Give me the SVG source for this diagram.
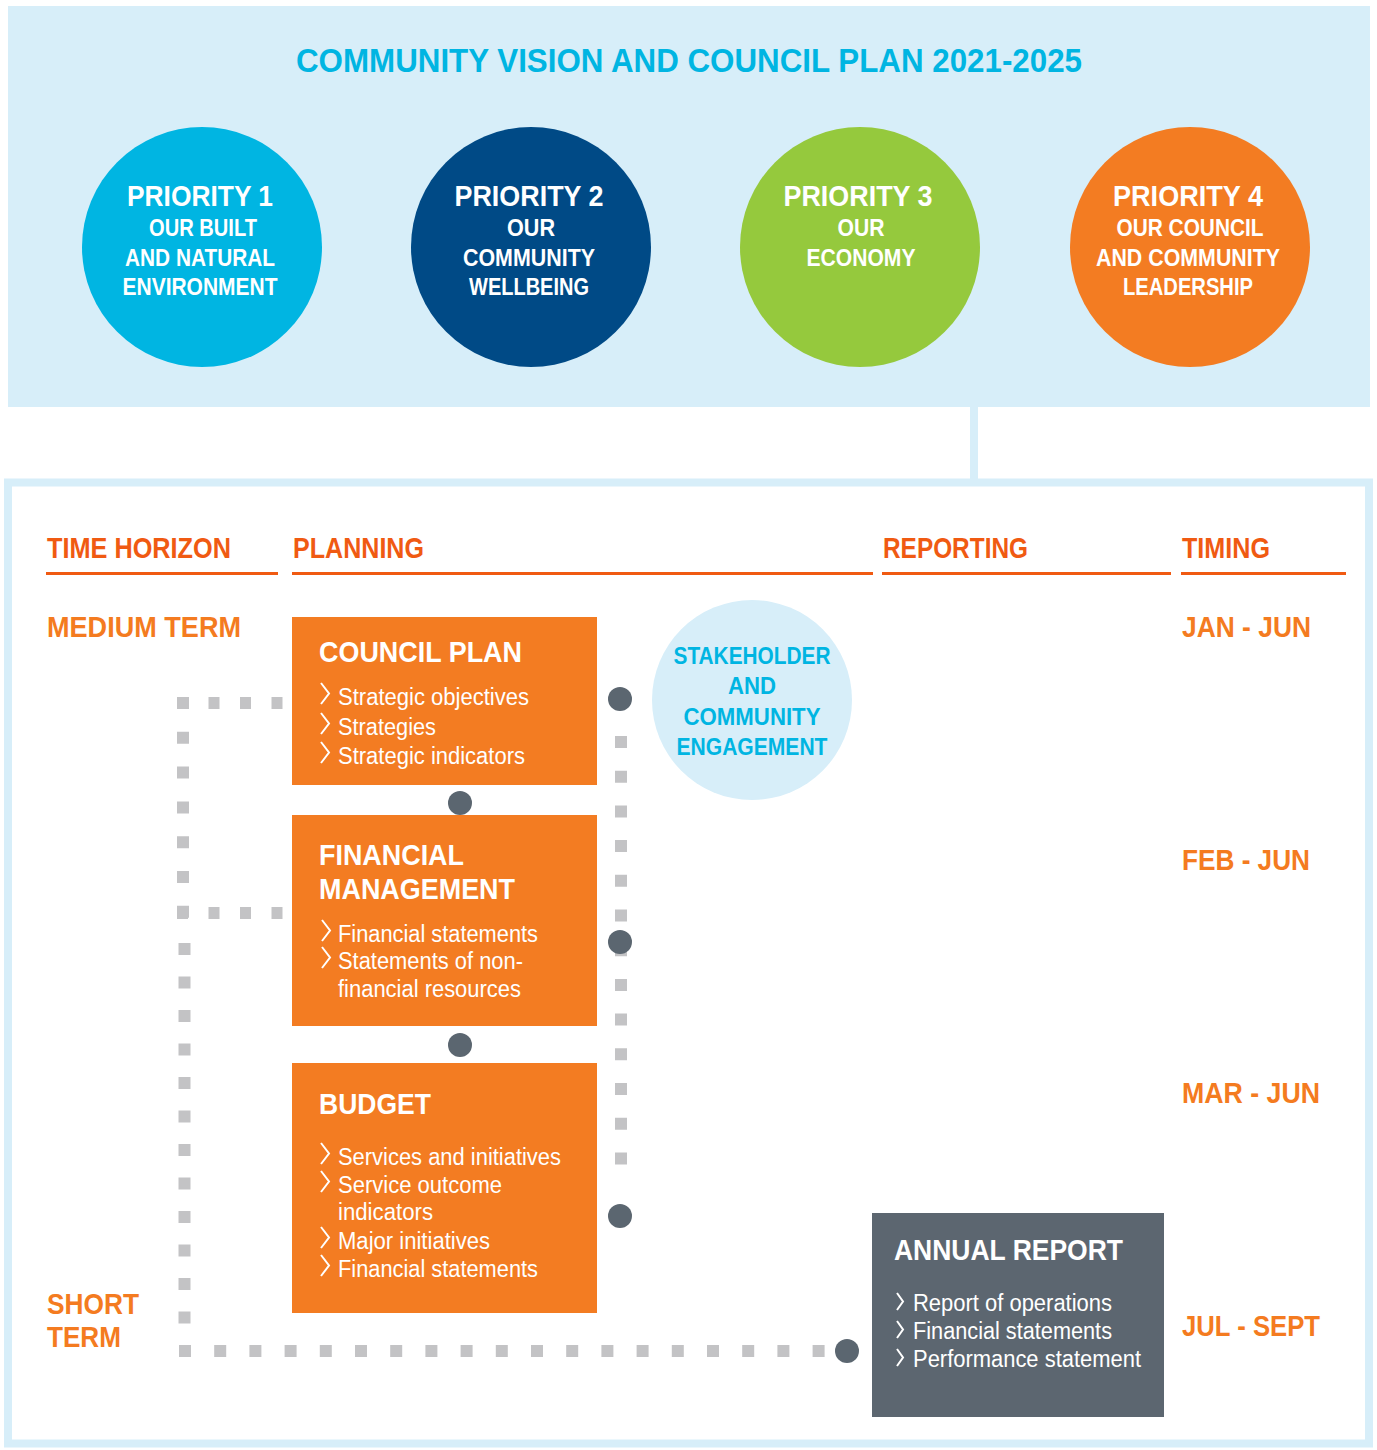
<svg xmlns="http://www.w3.org/2000/svg" xmlns:xlink="http://www.w3.org/1999/xlink" width="1377" height="1450" viewBox="0 0 1377 1450">
<style>
.b{font-family:"Liberation Sans",Arial,sans-serif;font-weight:bold}
.l{font-family:"Liberation Sans",Arial,sans-serif;font-weight:normal}
.w{fill:#FFFFFF}
.cy{fill:#00B5E2}
.hd{fill:#F05A12;font-size:30px}
.tm{fill:#F47B20;font-size:30px}
.ttl{font-size:30px}
.bul{font-size:23px}
.pr{font-size:30px}
.ps{font-size:23px}
.dot{fill:#5B6670}
.dash{stroke:#C3C3C5;stroke-width:12;fill:none}
.ul{stroke:#F05A12;stroke-width:3}
</style>
<defs>
<path id="chev" d="M0,0 L8,10.5 L0,21" fill="none" stroke="#FFFFFF" stroke-width="2"/>
<path id="chev2" d="M0,0 L6,8.5 L0,17" fill="none" stroke="#FFFFFF" stroke-width="2"/>
</defs>
<rect width="1377" height="1450" fill="#FFFFFF"/>

<g id="vision-panel">
<rect x="8" y="6" width="1362" height="401" fill="#D7EEF9"/>
<text class="b cy" x="689" y="72" font-size="33" text-anchor="middle" textLength="786" lengthAdjust="spacingAndGlyphs">COMMUNITY VISION AND COUNCIL PLAN 2021-2025</text>
</g>

<g id="priority1">
<circle cx="202" cy="247" r="120" fill="#00B5E2"/>
<text class="b w pr" x="200" y="206" text-anchor="middle" textLength="146" lengthAdjust="spacingAndGlyphs">PRIORITY 1</text>
<text class="b w ps" x="203" y="236" text-anchor="middle" textLength="108" lengthAdjust="spacingAndGlyphs">OUR BUILT</text>
<text class="b w ps" x="200" y="266" text-anchor="middle" textLength="150" lengthAdjust="spacingAndGlyphs">AND NATURAL</text>
<text class="b w ps" x="200" y="295" text-anchor="middle" textLength="155" lengthAdjust="spacingAndGlyphs">ENVIRONMENT</text>
</g>
<g id="priority2">
<circle cx="531" cy="247" r="120" fill="#004A86"/>
<text class="b w pr" x="529" y="206" text-anchor="middle" textLength="149" lengthAdjust="spacingAndGlyphs">PRIORITY 2</text>
<text class="b w ps" x="531" y="236" text-anchor="middle" textLength="48" lengthAdjust="spacingAndGlyphs">OUR</text>
<text class="b w ps" x="529" y="266" text-anchor="middle" textLength="132" lengthAdjust="spacingAndGlyphs">COMMUNITY</text>
<text class="b w ps" x="529" y="295" text-anchor="middle" textLength="120" lengthAdjust="spacingAndGlyphs">WELLBEING</text>
</g>
<g id="priority3">
<circle cx="860" cy="247" r="120" fill="#95C93D"/>
<text class="b w pr" x="858" y="206" text-anchor="middle" textLength="149" lengthAdjust="spacingAndGlyphs">PRIORITY 3</text>
<text class="b w ps" x="861" y="236" text-anchor="middle" textLength="47" lengthAdjust="spacingAndGlyphs">OUR</text>
<text class="b w ps" x="861" y="266" text-anchor="middle" textLength="109" lengthAdjust="spacingAndGlyphs">ECONOMY</text>
</g>
<g id="priority4">
<circle cx="1190" cy="247" r="120" fill="#F37C22"/>
<text class="b w pr" x="1188" y="206" text-anchor="middle" textLength="150" lengthAdjust="spacingAndGlyphs">PRIORITY 4</text>
<text class="b w ps" x="1190" y="236" text-anchor="middle" textLength="147" lengthAdjust="spacingAndGlyphs">OUR COUNCIL</text>
<text class="b w ps" x="1188" y="266" text-anchor="middle" textLength="184" lengthAdjust="spacingAndGlyphs">AND COMMUNITY</text>
<text class="b w ps" x="1188" y="295" text-anchor="middle" textLength="130" lengthAdjust="spacingAndGlyphs">LEADERSHIP</text>
</g>

<g id="framework">
<rect x="970" y="406" width="8" height="76" fill="#D7EEF9"/>
<rect x="8" y="482.5" width="1361" height="961" fill="none" stroke="#D7EEF9" stroke-width="8"/>
</g>

<g id="headers">
<text class="b hd" x="47" y="558" textLength="184" lengthAdjust="spacingAndGlyphs">TIME HORIZON</text>
<text class="b hd" x="293" y="558" textLength="131" lengthAdjust="spacingAndGlyphs">PLANNING</text>
<text class="b hd" x="883" y="558" textLength="145" lengthAdjust="spacingAndGlyphs">REPORTING</text>
<text class="b hd" x="1182" y="558" textLength="88" lengthAdjust="spacingAndGlyphs">TIMING</text>
<line class="ul" x1="46" y1="573.5" x2="278" y2="573.5"/>
<line class="ul" x1="292" y1="573.5" x2="873" y2="573.5"/>
<line class="ul" x1="882" y1="573.5" x2="1171" y2="573.5"/>
<line class="ul" x1="1181" y1="573.5" x2="1346" y2="573.5"/>
</g>

<g id="time-labels">
<text class="b tm" x="47" y="637" textLength="194" lengthAdjust="spacingAndGlyphs">MEDIUM TERM</text>
<text class="b tm" x="47" y="1314" textLength="92" lengthAdjust="spacingAndGlyphs">SHORT</text>
<text class="b tm" x="47" y="1347" textLength="74" lengthAdjust="spacingAndGlyphs">TERM</text>
<text class="b tm" x="1182" y="637" textLength="129" lengthAdjust="spacingAndGlyphs">JAN - JUN</text>
<text class="b tm" x="1182" y="870" textLength="128" lengthAdjust="spacingAndGlyphs">FEB - JUN</text>
<text class="b tm" x="1182" y="1103" textLength="138" lengthAdjust="spacingAndGlyphs">MAR - JUN</text>
<text class="b tm" x="1182" y="1336" textLength="138" lengthAdjust="spacingAndGlyphs">JUL - SEPT</text>
</g>

<g id="connectors">
<line class="dash" x1="177" y1="703" x2="290" y2="703" stroke-dasharray="11 20.5"/>
<line class="dash" x1="177" y1="913" x2="290" y2="913" stroke-dasharray="11 20.5"/>
<line class="dash" x1="183" y1="697" x2="183" y2="925" stroke-dasharray="12 22.8"/>
<line class="dash" x1="184.5" y1="943" x2="184.5" y2="1340" stroke-dasharray="12 21.5"/>
<line class="dash" x1="179" y1="1351" x2="830" y2="1351" stroke-dasharray="12 23.2"/>
<line class="dash" x1="621" y1="736" x2="621" y2="1170" stroke-dasharray="12 22.7"/>
<circle class="dot" cx="620" cy="699" r="12"/>
<circle class="dot" cx="620" cy="942" r="12"/>
<circle class="dot" cx="620" cy="1216" r="12"/>
<circle class="dot" cx="847" cy="1351" r="12"/>
<circle class="dot" cx="460" cy="803" r="12"/>
<circle class="dot" cx="460" cy="1045" r="12"/>
</g>

<g id="council-plan">
<rect x="292" y="617" width="305" height="168" fill="#F37C22"/>
<text class="b w ttl" x="319" y="662" textLength="203" lengthAdjust="spacingAndGlyphs">COUNCIL PLAN</text>
<use xlink:href="#chev" x="321" y="683"/>
<use xlink:href="#chev" x="321" y="713"/>
<use xlink:href="#chev" x="321" y="742"/>
<text class="l w bul" x="338" y="705" textLength="191" lengthAdjust="spacingAndGlyphs">Strategic objectives</text>
<text class="l w bul" x="338" y="735" textLength="98" lengthAdjust="spacingAndGlyphs">Strategies</text>
<text class="l w bul" x="338" y="764" textLength="187" lengthAdjust="spacingAndGlyphs">Strategic indicators</text>
</g>

<g id="financial-management">
<rect x="292" y="815" width="305" height="211" fill="#F37C22"/>
<text class="b w ttl" x="319" y="865" textLength="145" lengthAdjust="spacingAndGlyphs">FINANCIAL</text>
<text class="b w ttl" x="319" y="899" textLength="196" lengthAdjust="spacingAndGlyphs">MANAGEMENT</text>
<use xlink:href="#chev" x="322" y="920"/>
<use xlink:href="#chev" x="322" y="947"/>
<text class="l w bul" x="338" y="942" textLength="200" lengthAdjust="spacingAndGlyphs">Financial statements</text>
<text class="l w bul" x="338" y="969" textLength="185" lengthAdjust="spacingAndGlyphs">Statements of non-</text>
<text class="l w bul" x="338" y="997" textLength="183" lengthAdjust="spacingAndGlyphs">financial resources</text>
</g>

<g id="budget">
<rect x="292" y="1063" width="305" height="250" fill="#F37C22"/>
<text class="b w ttl" x="319" y="1114" textLength="112" lengthAdjust="spacingAndGlyphs">BUDGET</text>
<use xlink:href="#chev" x="321" y="1143"/>
<use xlink:href="#chev" x="321" y="1171"/>
<use xlink:href="#chev" x="321" y="1227"/>
<use xlink:href="#chev" x="321" y="1255"/>
<text class="l w bul" x="338" y="1165" textLength="223" lengthAdjust="spacingAndGlyphs">Services and initiatives</text>
<text class="l w bul" x="338" y="1193" textLength="164" lengthAdjust="spacingAndGlyphs">Service outcome</text>
<text class="l w bul" x="338" y="1220" textLength="95" lengthAdjust="spacingAndGlyphs">indicators</text>
<text class="l w bul" x="338" y="1249" textLength="152" lengthAdjust="spacingAndGlyphs">Major initiatives</text>
<text class="l w bul" x="338" y="1277" textLength="200" lengthAdjust="spacingAndGlyphs">Financial statements</text>
</g>

<g id="stakeholder-engagement">
<circle cx="752" cy="700" r="100" fill="#D7EEF9"/>
<text class="b cy" font-size="24" x="752" y="664" text-anchor="middle" textLength="157" lengthAdjust="spacingAndGlyphs">STAKEHOLDER</text>
<text class="b cy" font-size="24" x="752" y="694" text-anchor="middle" textLength="48" lengthAdjust="spacingAndGlyphs">AND</text>
<text class="b cy" font-size="24" x="752" y="725" text-anchor="middle" textLength="137" lengthAdjust="spacingAndGlyphs">COMMUNITY</text>
<text class="b cy" font-size="24" x="752" y="755" text-anchor="middle" textLength="151" lengthAdjust="spacingAndGlyphs">ENGAGEMENT</text>
</g>

<g id="annual-report">
<rect x="872" y="1213" width="292" height="204" fill="#5C6670"/>
<text class="b w ttl" x="894" y="1260" textLength="229" lengthAdjust="spacingAndGlyphs">ANNUAL REPORT</text>
<use xlink:href="#chev2" x="897" y="1293"/>
<use xlink:href="#chev2" x="897" y="1321"/>
<use xlink:href="#chev2" x="897" y="1349"/>
<text class="l w bul" x="913" y="1311" textLength="199" lengthAdjust="spacingAndGlyphs">Report of operations</text>
<text class="l w bul" x="913" y="1339" textLength="199" lengthAdjust="spacingAndGlyphs">Financial statements</text>
<text class="l w bul" x="913" y="1367" textLength="228" lengthAdjust="spacingAndGlyphs">Performance statement</text>
</g>
</svg>
